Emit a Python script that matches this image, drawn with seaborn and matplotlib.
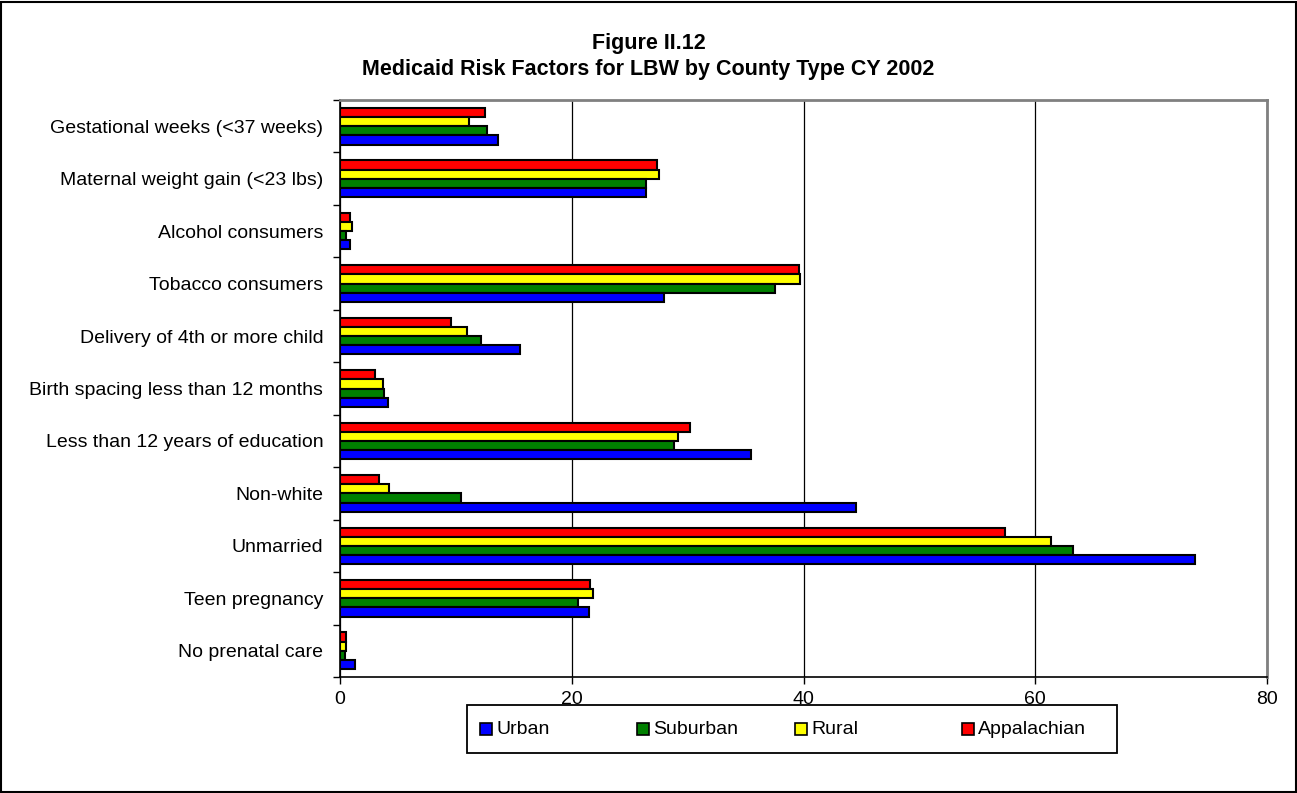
## for data
import numpy as np
import pandas as pd
## for plotting
import matplotlib
matplotlib.use("Agg")
import matplotlib.pyplot as plt
from matplotlib.patches import Rectangle
import seaborn as sns

## data (percent)
factors = ["Gestational weeks (<37 weeks)", "Maternal weight gain (<23 lbs)",
           "Alcohol consumers", "Tobacco consumers",
           "Delivery of 4th or more child", "Birth spacing less than 12 months",
           "Less than 12 years of education", "Non-white", "Unmarried",
           "Teen pregnancy", "No prenatal care"]
urban = [13.6, 26.4, 0.9, 28.0, 15.5, 4.1, 35.5, 44.5, 73.8, 21.5, 1.3]
suburban = [12.7, 26.4, 0.5, 37.5, 12.2, 3.8, 28.8, 10.4, 63.3, 20.5, 0.45]
rural = [11.1, 27.5, 1.0, 39.7, 11.0, 3.7, 29.2, 4.2, 61.4, 21.8, 0.5]
appalachian = [12.5, 27.4, 0.9, 39.6, 9.6, 3.0, 30.2, 3.4, 57.4, 21.6, 0.5]
county_types = ["Urban", "Suburban", "Rural", "Appalachian"]
colors = {"Urban": "#0000FF", "Suburban": "#008000",
          "Rural": "#FFFF00", "Appalachian": "#FF0000"}

dtf = pd.DataFrame({"factor": factors, "Urban": urban, "Suburban": suburban,
                    "Rural": rural, "Appalachian": appalachian})
data = dtf.melt(id_vars="factor", var_name="county", value_name="pct")

sns.set_theme(style="white")
plt.rcParams["font.family"] = ["Liberation Sans", "DejaVu Sans"]
plt.rcParams["text.color"] = "black"
plt.rcParams["xtick.color"] = "black"
plt.rcParams["ytick.color"] = "black"
plt.rcParams["axes.labelcolor"] = "black"

fig = plt.figure(figsize=(12.97, 7.93), dpi=100)
ax = fig.add_axes([340/1297, 1-677/793, 927/1297, 577/793])

## hue order reversed so Appalachian (red) sits on top of each group
sns.barplot(data=data, y="factor", x="pct", hue="county",
            order=factors, hue_order=county_types[::-1],
            palette=colors, orient="h", width=0.7,
            edgecolor="black", linewidth=1.5, saturation=1,
            legend=False, ax=ax)

ax.set_xlim(0, 80)
ax.set_xticks([0, 20, 40, 60, 80])
ax.set_xlabel("")
ax.set_ylabel("")
ax.xaxis.grid(True, color="black", linewidth=0.9)
ax.set_axisbelow(True)
ax.tick_params(axis="x", labelsize=14, length=5, width=1, color="black",
               direction="out", bottom=True, pad=5)
ax.tick_params(axis="y", which="major", labelsize=14, length=0, pad=12)
ax.set_yticks(np.arange(-0.5, len(factors), 1), minor=True)
ax.tick_params(axis="y", which="minor", length=5, width=1, color="black",
               direction="out", left=True)
ax.set_ylim(len(factors) - 0.5, -0.5)

for side in ["left", "bottom"]:
    ax.spines[side].set_color("black")
    ax.spines[side].set_linewidth(1.2)
for side in ["top", "right"]:
    ax.spines[side].set_color("#808080")
    ax.spines[side].set_linewidth(2)

## title
fig.text(0.5, 1-43/793, "Figure II.12", ha="center", va="center",
         fontsize=15.5, fontweight="bold")
fig.text(0.5, 1-70/793, "Medicaid Risk Factors for LBW by County Type CY 2002",
         ha="center", va="center", fontsize=15.5, fontweight="bold")

## legend, laid out like the Excel one (fixed slots)
W, H = 1297, 793
fig.patches.append(Rectangle((467/W, 1-753/H), 650/W, 48/H, transform=fig.transFigure,
                             fill=False, edgecolor="black", linewidth=1.3))
for c, x0 in zip(county_types, [480, 637, 795, 962]):
    fig.patches.append(Rectangle((x0/W, 1-735/H), 12/W, 12/H, transform=fig.transFigure,
                                 facecolor=colors[c], edgecolor="black", linewidth=1.2))
    fig.text((x0+16)/W, 1-729/H, c, ha="left", va="center", fontsize=14)

## outer frame
fig.patches.append(Rectangle((0.001, 0.001), 0.998, 0.997, transform=fig.transFigure,
                             fill=False, edgecolor="black", linewidth=1.5))

fig.savefig("out.png", dpi=100)
